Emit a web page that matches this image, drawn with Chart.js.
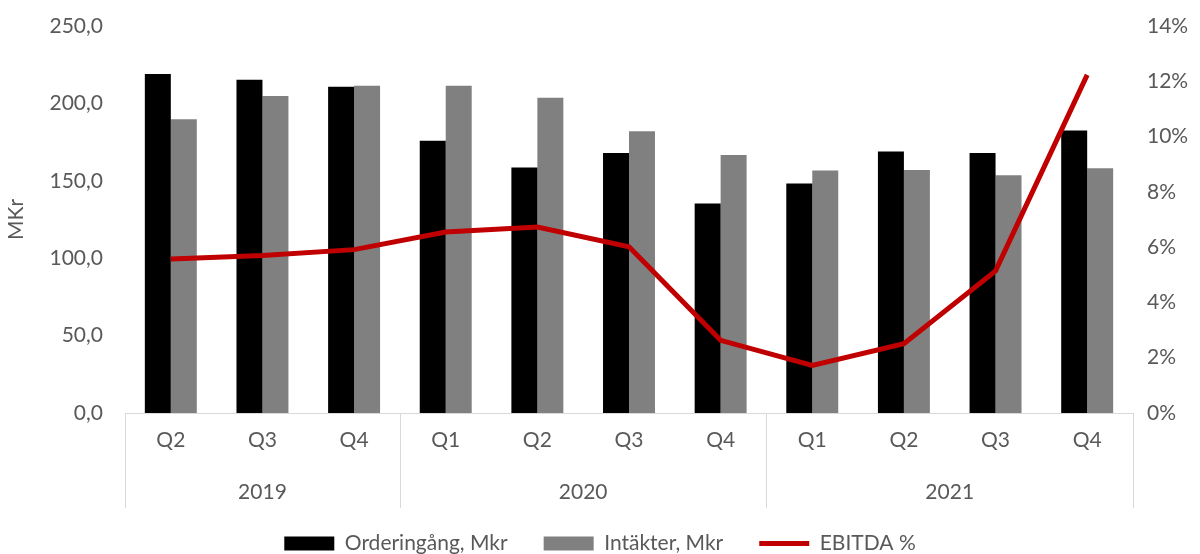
<!DOCTYPE html>
<html>
<head>
<meta charset="utf-8">
<script src="https://cdn.jsdelivr.net/npm/chart.js@4"></script>
<style>
  html, body { margin: 0; background: #fff; }
  #wrap { width: 1200px; height: 554px; }
</style>
</head>
<body>
<div id="wrap"><canvas id="chart"></canvas></div>
<script>
// values
const quarters = ['Q2', 'Q3', 'Q4', 'Q1', 'Q2', 'Q3', 'Q4', 'Q1', 'Q2', 'Q3', 'Q4'];
const years = ['2019', '2020', '2021'];
const quartersPerYear = [3, 4, 4];
const orderIntake = [219.0, 215.3, 210.7, 175.8, 158.6, 167.9, 135.3, 148.3, 169.0, 168.0, 182.5];
const revenue = [189.8, 204.7, 211.4, 211.4, 203.6, 182.0, 166.6, 156.7, 157.0, 153.6, 158.1];
const ebitdaPct = [5.57, 5.70, 5.91, 6.55, 6.73, 6.01, 2.63, 1.72, 2.51, 5.14, 12.23];

const textColor = '#595959';
const axisColor = '#d9d9d9';
const fontFamily = 'Lato, "Open Sans", sans-serif';

// draws the year row and the group separators under the quarter labels
const yearGroups = {
  id: 'yearGroups',
  afterDraw(chart) {
    const x = chart.scales.x;
    const ctx = chart.ctx;
    const bottom = chart.chartArea.bottom;
    const step = x.getPixelForValue(1) - x.getPixelForValue(0);
    const edges = [x.getPixelForValue(0) - step / 2];

    ctx.save();
    ctx.font = '21px ' + fontFamily;
    ctx.fillStyle = textColor;
    ctx.textAlign = 'center';
    ctx.textBaseline = 'middle';
    let start = 0;
    years.forEach((yr, i) => {
      const n = quartersPerYear[i];
      const l = x.getPixelForValue(start) - step / 2;
      const r = x.getPixelForValue(start + n - 1) + step / 2;
      ctx.fillText(yr, (l + r) / 2, bottom + 79);
      edges.push(r);
      start += n;
    });
    ctx.strokeStyle = axisColor;
    ctx.lineWidth = 1;
    edges.forEach(e => {
      const px = Math.round(e) + 0.5;
      ctx.beginPath();
      ctx.moveTo(px, bottom);
      ctx.lineTo(px, bottom + 95);
      ctx.stroke();
    });
    ctx.restore();
  }
};

Chart.defaults.font.family = fontFamily;
Chart.defaults.font.size = 21;
Chart.defaults.color = textColor;

new Chart(document.getElementById('chart').getContext('2d'), {
  data: {
    labels: quarters,
    datasets: [
      {
        type: 'bar',
        label: 'Orderingång, Mkr',
        data: orderIntake,
        backgroundColor: '#000000',
        yAxisID: 'y',
        order: 1,
        categoryPercentage: 0.567,
        barPercentage: 1
      },
      {
        type: 'bar',
        label: 'Intäkter, Mkr',
        data: revenue,
        backgroundColor: '#808080',
        yAxisID: 'y',
        order: 1,
        categoryPercentage: 0.567,
        barPercentage: 1
      },
      {
        type: 'line',
        label: 'EBITDA %',
        data: ebitdaPct,
        borderColor: '#c00000',
        backgroundColor: '#c00000',
        borderWidth: 5,
        pointRadius: 0,
        tension: 0,
        yAxisID: 'y1',
        order: 0
      }
    ]
  },
  options: {
    responsive: true,
    maintainAspectRatio: false,
    animation: false,
    layout: { padding: { top: 26, left: 0, right: 0, bottom: -10 } },
    plugins: {
      tooltip: { enabled: false },
      legend: {
        position: 'bottom',
        labels: {
          usePointStyle: true,
          pointStyleWidth: 50,
          boxHeight: 14,
          padding: 36,
          color: textColor,
          generateLabels(chart) {
            return chart.data.datasets.map((ds, i) => ({
              text: ds.label,
              fillStyle: ds.type === 'line' ? 'rgba(0,0,0,0)' : ds.backgroundColor,
              strokeStyle: ds.type === 'line' ? ds.borderColor : ds.backgroundColor,
              lineWidth: ds.type === 'line' ? 5 : 0,
              pointStyle: ds.type === 'line' ? 'line' : 'rect',
              fontColor: textColor,
              hidden: false,
              datasetIndex: i
            }));
          }
        }
      }
    },
    scales: {
      x: {
        grid: { display: false, drawTicks: false },
        border: { display: true, color: axisColor },
        ticks: { padding: 15, color: textColor },
        afterFit(scale) { scale.height = 84; }
      },
      y: {
        position: 'left',
        min: 0,
        max: 250,
        grid: { display: false, drawTicks: false },
        border: { display: false },
        ticks: {
          stepSize: 50,
          padding: 22,
          color: textColor,
          callback: v => v.toFixed(1).replace('.', ',')
        },
        title: { display: true, text: 'MKr', color: textColor, padding: 4 },
        afterFit(scale) {
          scale.width = 125;
          scale.paddingTop = 0;
          scale.paddingBottom = 0;
        }
      },
      y1: {
        position: 'right',
        min: 0,
        max: 14,
        grid: { display: false, drawTicks: false },
        border: { display: false },
        ticks: {
          stepSize: 2,
          padding: 14,
          color: textColor,
          callback: v => v + '%'
        },
        afterFit(scale) {
          scale.width = 67;
          scale.paddingTop = 0;
          scale.paddingBottom = 0;
        }
      }
    }
  },
  plugins: [yearGroups]
});
</script>
</body>
</html>
